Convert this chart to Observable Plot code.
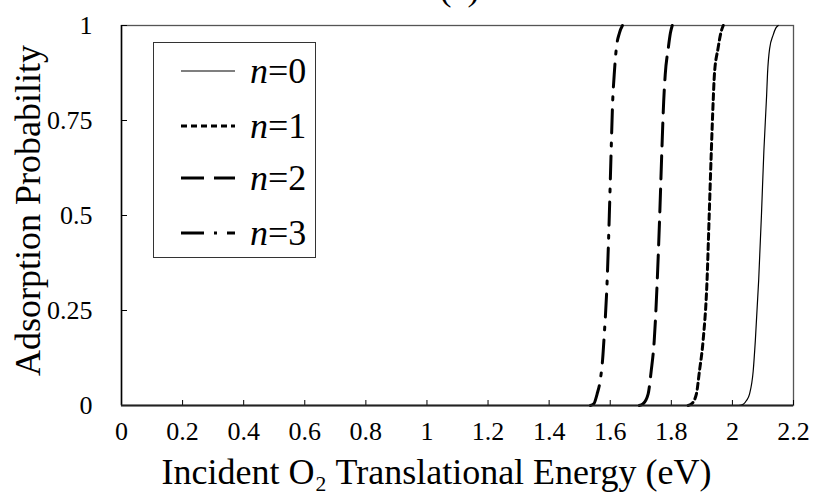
<!DOCTYPE html>
<html><head><meta charset="utf-8">
<script src="https://cdn.jsdelivr.net/npm/d3@7"></script>
<script src="https://cdn.jsdelivr.net/npm/@observablehq/plot@0.6"></script>
<style>
body{margin:0;background:#fff;}
#wrap{position:relative;width:813px;height:502px;overflow:hidden;background:#fff;}
.legend{position:absolute;left:153px;top:42px;width:163px;height:216px;border:1.5px solid #333;background:#fff;box-sizing:border-box;font-family:"Liberation Serif","Times New Roman",serif;}
.row{position:absolute;left:0;height:40px;width:160px;}
.row svg{position:absolute;left:26px;top:0;}
.row span{position:absolute;left:96px;top:0;line-height:40px;font-size:36px;color:#000;}
</style></head><body><div id="wrap"></div>
<script>
// ---- data ----
const xTicks = [0, 0.2, 0.4, 0.6, 0.8, 1, 1.2, 1.4, 1.6, 1.8, 2, 2.2];
const xTickLabels = ["0","0.2","0.4","0.6","0.8","1","1.2","1.4","1.6","1.8","2","2.2"];
const yTicks = [0, 0.25, 0.5, 0.75, 1];
const yTickLabels = ["0","0.25","0.5","0.75","1"];
const seriesNames = ["n=0","n=1","n=2","n=3"];

const energyN0 = [2.02, 2.035, 2.046, 2.056, 2.068, 2.075, 2.086, 2.095, 2.103, 2.112, 2.115, 2.122, 2.133, 2.142, 2.15];
const probN0   = [0,    0.003, 0.013, 0.03,  0.09,  0.17,  0.33,  0.5,   0.67,  0.816, 0.874, 0.94,  0.974, 0.993, 1.0];

const energyN1 = [1.855, 1.866, 1.882, 1.892, 1.904, 1.917, 1.924, 1.931, 1.937, 1.941, 1.953, 1.962, 1.97];
const probN1   = [0,     0.004, 0.03,  0.09,  0.17,  0.33,  0.5,   0.67,  0.8,   0.87,  0.94,  0.98,  1.0];

const energyN2 = [1.695, 1.707, 1.724, 1.734, 1.744, 1.754, 1.762, 1.769, 1.775, 1.78, 1.79, 1.797, 1.803];
const probN2   = [0,     0.004, 0.03,  0.09,  0.17,  0.33,  0.5,   0.67,  0.8,   0.87, 0.94, 0.98,  1.0];

const energyN3 = [1.535, 1.546, 1.557, 1.568, 1.575, 1.58, 1.59, 1.597, 1.603, 1.608, 1.613, 1.62, 1.63, 1.64];
const probN3   = [0,     0.004, 0.03,  0.07,  0.12,  0.18, 0.33, 0.5,   0.67,  0.8,   0.87,  0.94, 0.98, 1.0];

const xTitle = "Incident O\u2082 Translational Energy (eV)";
const yTitle = "Adsorption Probability";
const panelTitle = "(a)";

// ---- styles ----
const styles = [
  {width: 1.2, dash: null},
  {width: 3, dash: "6,4"},
  {width: 3, dash: "23,10"},
  {width: 3, dash: "23,10,3,10"}
];

const toRows = (es, ps) => es.map((e, i) => ({e, p: ps[i]}));
const curves = [toRows(energyN0, probN0), toRows(energyN1, probN1), toRows(energyN2, probN2), toRows(energyN3, probN3)];

const W = 813, H = 502, mL = 121, mR = 20, mT = 25, mB = 97;
const pw = W - mL - mR, ph = H - mT - mB;
const font = "Liberation Serif, Times New Roman, serif";

const chart = Plot.plot({
  width: W, height: H,
  marginLeft: mL, marginRight: mR, marginTop: mT, marginBottom: mB,
  style: {fontFamily: font, color: "#000", background: "#fff", overflow: "hidden"},
  x: {domain: [0, 2.2]},
  y: {domain: [0, 1]},
  marks: [
    Plot.frame({stroke: "#555", strokeWidth: 1.3}),
    Plot.tickY(yTicks, {y: d => d, insetRight: pw - 6, stroke: "#000", strokeWidth: 1}),
    Plot.tickX(xTicks, {x: d => d, insetTop: ph - 5, stroke: "#000", strokeWidth: 1}),
    ...curves.map((c, i) => Plot.line(c, {
      x: "e", y: "p", stroke: "#000",
      strokeWidth: styles[i].width,
      strokeDasharray: styles[i].dash,
      curve: "monotone-x"
    })),
    Plot.ruleX([0], {stroke: "#000", strokeWidth: 1.5}),
    Plot.ruleY([0], {stroke: "#222", strokeWidth: 1.8}),
    Plot.axisY(yTicks, {tickSize: 0, tickPadding: 29, fontSize: 26, label: null,
      tickFormat: d => yTickLabels[yTicks.indexOf(d)]}),
    Plot.axisX(xTicks, {tickSize: 0, tickPadding: 16, fontSize: 26, label: null,
      tickFormat: d => xTickLabels[xTicks.indexOf(d)]}),
    Plot.text([xTitle], {text: d => d, frameAnchor: "bottom", dx: -21, dy: 67, fontSize: 36, lineAnchor: "middle"}),
    Plot.text([yTitle], {text: d => d, frameAnchor: "left", textAnchor: "middle", dx: -93, dy: -5, rotate: -90, fontSize: 36, lineAnchor: "middle"}),
    Plot.text([panelTitle], {text: d => d, frameAnchor: "top", dx: 2, dy: -37, fontSize: 36, lineAnchor: "middle"})
  ]
});

const wrap = document.getElementById("wrap");
wrap.appendChild(chart);

// ---- legend (HTML overlay) ----
const legend = document.createElement("div");
legend.className = "legend";
const rowTops = [8, 63, 115, 170];
seriesNames.forEach((name, i) => {
  const row = document.createElement("div");
  row.className = "row";
  row.style.top = rowTops[i] + "px";
  const s = styles[i];
  row.innerHTML = `<svg width="56" height="40"><line x1="1" y1="20" x2="55" y2="20" stroke="#000" stroke-width="${s.width}" ${s.dash ? `stroke-dasharray="${s.dash}"` : ""}/></svg>` +
    `<span><i>${name.split("=")[0]}</i>=${name.split("=")[1]}</span>`;
  legend.appendChild(row);
});
wrap.appendChild(legend);
</script></body></html>
